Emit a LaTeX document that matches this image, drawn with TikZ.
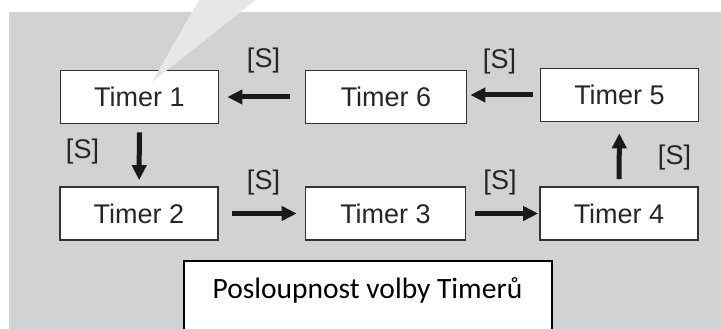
\documentclass[tikz,border=0pt]{standalone}
\usepackage{fontspec}
\usetikzlibrary{arrows.meta}
\newfontfamily\timerfont{Liberation Sans}
\newfontfamily\notefont{Carlito}
\definecolor{panelgray}{HTML}{D1D2D4}
\definecolor{wedgegray}{HTML}{E6E7E9}
\definecolor{boxline}{HTML}{333333}
\tikzset{
  timerbox/.style={draw=boxline, line width=1.6pt, fill=white, minimum width=158pt, minimum height=53pt, inner sep=0pt, text=black!85, font=\timerfont\fontsize{27}{30}\selectfont},
  slabel/.style={inner sep=0pt, text=black!85, font=\timerfont\fontsize{27}{30}\selectfont},
  stepto/.style={line width=5pt, black!90, -{Triangle[length=15pt,width=14pt]}},
  notebox/.style={draw=black, line width=2pt, fill=white, anchor=north, minimum width=368pt, inner sep=0pt, text height=37pt, text depth=60pt, font=\notefont\fontsize{29.5}{32}\selectfont}
}
\begin{document}
\begin{tikzpicture}[x=1pt,y=-1pt]
                \useasboundingbox (0,0) rectangle (721,329);
                \clip (0,0) rectangle (721,329);
                \fill[panelgray] (9,12) rectangle (721,329);
                \node[timerbox] (t1) at (139.5,97) {Timer 1};
                \node[timerbox, minimum width=161pt] (t6) at (386,97) {Timer 6};
                \node[timerbox] (t5) at (619.5,95) {Timer 5};
                \node[timerbox] (t2) at (139,213.5) {Timer 2};
                \node[timerbox, minimum width=160pt] (t3) at (385.5,213.5) {Timer 3};
                \node[timerbox] (t4) at (619,213.5) {Timer 4};
                \node[slabel] (s61) at (263.5,61) {[S]};
                \node[slabel] (s56) at (499.5,62) {[S]};
                \node[slabel] (s12) at (82.5,152) {[S]};
                \node[slabel] (s23) at (263.5,182.5) {[S]};
                \node[slabel] (s34) at (500,182.5) {[S]};
                \node[slabel] (s45) at (674.5,157.5) {[S]};
                \draw[stepto, shorten <=15pt, shorten >=8pt] (t6) -- (t1);
                \draw[stepto, shorten <=7pt, shorten >=3pt] (t5.west) -- (t5.west -| t6.east);
                \draw[stepto, shorten <=8pt, shorten >=6pt] (t1) -- (t2);
                \draw[stepto, shorten <=13pt, shorten >=8pt] (t2) -- (t3);
                \draw[stepto, shorten <=9pt, shorten >=1pt] (t3) -- (t4);
                \draw[stepto, shorten <=7pt, shorten >=11pt] (t4) -- (t5);
                \fill[wedgegray] (199,0) -- (256,0) -- (152,82) -- cycle;
                \node[notebox] (note) at (367.5,260) {Posloupnost volby Timerů};
            \end{tikzpicture}
\end{document}
